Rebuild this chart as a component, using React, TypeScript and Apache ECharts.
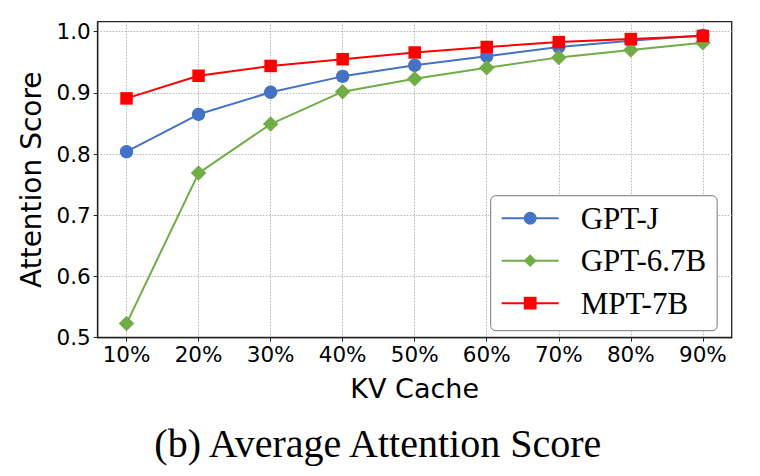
import React, { useEffect, useRef } from "react";
import * as echarts from "echarts";

const kvCache = [10, 20, 30, 40, 50, 60, 70, 80, 90];
const tickLabels = ["10%", "20%", "30%", "40%", "50%", "60%", "70%", "80%", "90%"];
const yTicks = [0.5, 0.6, 0.7, 0.8, 0.9, 1.0];
const gptJ = [0.804, 0.865, 0.901, 0.927, 0.945, 0.96, 0.975, 0.985, 0.994];
const gpt67b = [0.523, 0.769, 0.849, 0.902, 0.923, 0.941, 0.958, 0.97, 0.982];
const mpt7b = [0.891, 0.928, 0.944, 0.955, 0.966, 0.975, 0.983, 0.988, 0.993];
const seriesNames = ["GPT-J", "GPT-6.7B", "MPT-7B"];
const caption = "(b) Average Attention Score";

export default function App() {
  const ref = useRef<HTMLDivElement>(null);
  useEffect(() => {
    document.body.style.margin = "0";
    const chart = echarts.init(ref.current!, null, { renderer: "svg" });
    const axisColor = "#222";
    const sans = "DejaVu Sans";
    const serif = "Liberation Serif";
    const mk = (vals: number[]) => kvCache.map((x, i) => [x, vals[i]]);
    chart.setOption({
      animation: false,
      backgroundColor: "#fff",
      grid: {
        left: 97.7,
        top: 21.7,
        width: 634,
        height: 316,
        show: true,
        borderColor: axisColor,
        borderWidth: 1.3,
        backgroundColor: "#fff",
      },
      xAxis: {
        type: "value",
        min: 6,
        max: 94,
        minInterval: 10,
        maxInterval: 10,
        name: "KV Cache",
        nameLocation: "middle",
        nameGap: 37,
        nameTextStyle: { fontFamily: sans, fontSize: 27, color: "#000" },
        axisLine: { show: true, lineStyle: { color: axisColor, width: 1.3 } },
        axisTick: {
          show: true,
          length: 4,
          lineStyle: { color: axisColor, width: 1 },
          customValues: kvCache,
        },
        axisLabel: {
          fontFamily: sans,
          fontSize: 21.5,
          color: "#000",
          margin: 6,
          customValues: kvCache,
          formatter: (v: number) => {
            const i = kvCache.indexOf(Math.round(v));
            return i >= 0 ? tickLabels[i] : "";
          },
        },
        splitLine: { show: true, lineStyle: { color: "#b5b5b5", width: 1, type: [1.5, 1.5] } },
      },
      yAxis: {
        type: "value",
        min: 0.5,
        max: 1.0163,
        minInterval: 0.1,
        maxInterval: 0.1,
        name: "Attention Score",
        nameLocation: "middle",
        nameGap: 47,
        nameTextStyle: { fontFamily: sans, fontSize: 28, color: "#000" },
        axisLine: { show: true, lineStyle: { color: axisColor, width: 1.3 } },
        axisTick: {
          show: true,
          length: 4,
          lineStyle: { color: axisColor, width: 1 },
          customValues: yTicks,
        },
        axisLabel: {
          fontFamily: sans,
          fontSize: 21.5,
          color: "#000",
          margin: 7,
          customValues: yTicks,
          formatter: (v: number) => v.toFixed(1),
        },
        splitLine: { show: true, lineStyle: { color: "#b5b5b5", width: 1, type: [1.5, 1.5] } },
      },
      legend: {
        orient: "vertical",
        left: 490.7,
        top: 195.7,
        itemWidth: 57,
        itemHeight: 16,
        itemGap: 11.5,
        padding: [7, 11, 12, 10],
        borderColor: "#777",
        borderWidth: 1,
        borderRadius: 5,
        backgroundColor: "#fff",
        textStyle: {
          fontFamily: serif,
          fontSize: 31,
          lineHeight: 29,
          color: "#000",
          padding: [0, 0, 0, 17],
        },
        data: seriesNames,
      },
      graphic: [
        {
          type: "text",
          left: "center",
          top: 423,
          style: {
            text: caption,
            fontFamily: serif,
            fontSize: 40,
            fill: "#000",
          },
        },
      ],
      series: [
        {
          name: seriesNames[0],
          type: "line",
          data: mk(gptJ),
          symbol: "circle",
          symbolSize: 13.3,
          lineStyle: { color: "#4472C4", width: 2 },
          itemStyle: { color: "#4472C4" },
        },
        {
          name: seriesNames[1],
          type: "line",
          data: mk(gpt67b),
          symbol: "diamond",
          symbolSize: 15.5,
          lineStyle: { color: "#70AD47", width: 2 },
          itemStyle: { color: "#70AD47" },
        },
        {
          name: seriesNames[2],
          type: "line",
          data: mk(mpt7b),
          symbol: "rect",
          symbolSize: 12.5,
          lineStyle: { color: "#FF0000", width: 2 },
          itemStyle: { color: "#FF0000" },
        },
      ],
    });
    return () => chart.dispose();
  }, []);
  return <div ref={ref} style={{ width: 760, height: 476 }} />;
}
